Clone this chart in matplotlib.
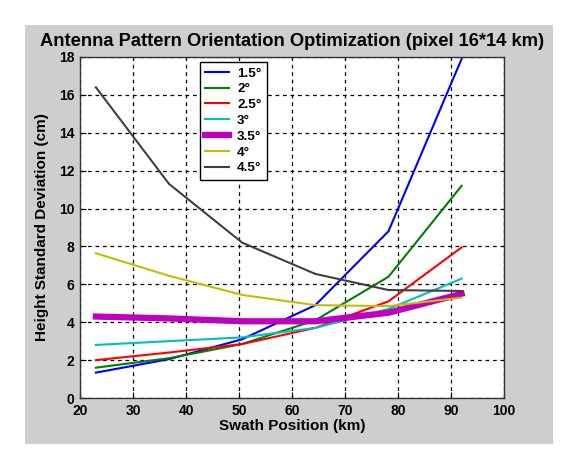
import matplotlib
matplotlib.use("Agg")
import matplotlib.pyplot as plt
from matplotlib.patches import Rectangle

x = [23, 36.8, 50.6, 64.4, 78.2, 92]
labels = ["1.5°", "2°", "2.5°", "3°", "3.5°", "4°", "4.5°"]
s15 = [1.34, 2.05, 3.1, 4.9, 8.8, 17.9]
s20 = [1.6, 2.1, 2.85, 4.1, 6.4, 11.2]
s25 = [2.0, 2.4, 2.85, 3.7, 5.1, 7.95]
s30 = [2.8, 3.0, 3.2, 3.7, 4.7, 6.3]
s35 = [4.3, 4.2, 4.05, 4.05, 4.5, 5.5]
s40 = [7.64, 6.45, 5.44, 4.9, 4.85, 5.3]
s45 = [16.4, 11.3, 8.2, 6.55, 5.7, 5.65]
series = [s15, s20, s25, s30, s35, s40, s45]
colors = ["#0000ff", "#008000", "#ff0000", "#00bfbf", "#bf00bf", "#bfbf00", "#404040"]
widths = [1.5, 1.5, 1.5, 1.5, 4.5, 1.5, 1.5]

plt.rcParams['font.family'] = ['Liberation Sans', 'DejaVu Sans']
plt.rcParams['font.weight'] = 'bold'

fig = plt.figure(figsize=(5.79, 4.70), dpi=100, facecolor='white')
fig.patches.append(Rectangle((25/579, 1-444/470), 528/579, 419/470,
                             transform=fig.transFigure, facecolor='#cecece',
                             edgecolor='none', zorder=-10))
ax = fig.add_axes([80/579, 1-398/470, 424/579, 341/470])
ax.set_facecolor('white')
for s, c, lw, lab in zip(series, colors, widths, labels):
    ax.plot(x, s, color=c, lw=lw, label=lab)

ax.set_xlim(20, 100)
ax.set_ylim(0, 18)
ax.set_xticks(range(20, 101, 10))
ax.set_yticks(range(0, 19, 2))
ax.grid(True, color='black', linestyle=(0, (3, 3)), linewidth=0.9)
ax.tick_params(direction='in', length=4, labelsize=10, pad=4)
for sp in ax.spines.values():
    sp.set_linewidth(1.0)
    sp.set_color('#333333')
for lbl in ax.get_xticklabels() + ax.get_yticklabels():
    lbl.set_fontweight('bold')

ax.set_xlabel("Swath Position (km)", fontsize=11, fontweight='bold', labelpad=1)
ax.set_ylabel("Height Standard Deviation (cm)", fontsize=11, fontweight='bold', labelpad=7)
ax.set_title("Antenna Pattern Orientation Optimization (pixel 16*14 km)",
             fontsize=13.2, fontweight='bold', pad=8)

leg = ax.legend(loc='upper left', bbox_to_anchor=(120/424, 1-4.7/341),
                borderaxespad=0,
                fancybox=False, edgecolor='black', framealpha=1,
                prop={'weight': 'bold', 'size': 9.7}, handlelength=1.75,
                labelspacing=0.25, borderpad=0.4, handletextpad=0.6)
leg.get_frame().set_linewidth(1.0)

fig.savefig("out.png", dpi=100, facecolor='white')
